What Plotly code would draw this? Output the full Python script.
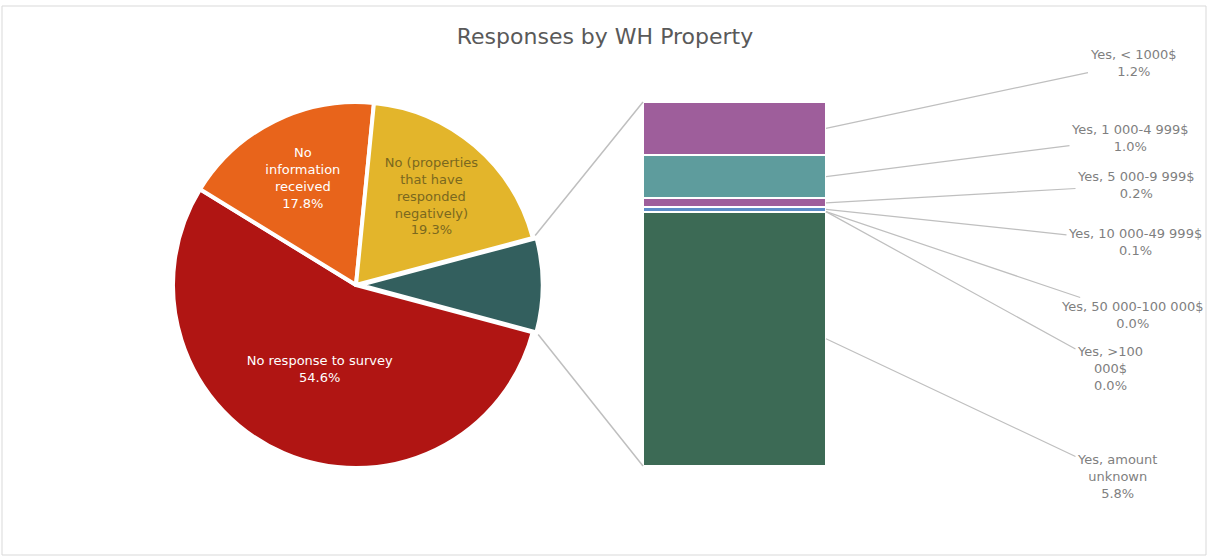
import plotly.graph_objects as go

# ---------------- data ----------------
pie_labels = ["No response to survey", "No information received",
              "No (properties that have responded negatively)", "Other"]
pie_text = ["No response to survey<br>54.6%",
            "No<br>information<br>received<br>17.8%",
            "No (properties<br>that have<br>responded<br>negatively)<br>19.3%",
            ""]
pie_main_values = [54.6, 17.8, 19.3]

bar_labels = ["Yes, amount unknown", "Yes, >100 000$", "Yes, 50 000-100 000$",
              "Yes, 10 000-49 999$", "Yes, 5 000-9 999$", "Yes, 1 000-4 999$",
              "Yes, < 1000$"]
bar_values = [5.8, 0.0, 0.0, 0.1, 0.2, 1.0, 1.2]
bar_label_text = ["Yes, amount<br>unknown<br>5.8%", "Yes, >100<br>000$<br>0.0%",
                  "Yes, 50 000-100 000$<br>0.0%", "Yes, 10 000-49 999$<br>0.1%",
                  "Yes, 5 000-9 999$<br>0.2%", "Yes, 1 000-4 999$<br>1.0%",
                  "Yes, < 1000$<br>1.2%"]

other_total = sum(bar_values)
pie_values = pie_main_values + [other_total]

# ---------------- styles ----------------
FONT = "DejaVu Sans"
pie_colors = ["#B01513", "#E8641B", "#E3B52B", "#335F5E"]
pie_text_colors = ["white", "white", "#7a681f", "#335F5E"]
bar_colors = ["#3C6A55", "#7F7F7F", "#7F7F7F", "#5B8DC8", "#9E5E9B", "#5E9C9D", "#9E5E9B"]
GRAY_LINE = "#BFBFBF"
LABEL_GRAY = "#7F7F7F"

W, H = 1210, 558

fig = go.Figure()

# pie (center ~ (355,285) px, radius ~183 px)
pull = [0, 0, 0, 0.02]
r = 183 * 1.02
cx, cy = 356, 285
fig.add_trace(go.Pie(
    labels=pie_labels, values=pie_values, text=pie_text,
    textinfo="text", texttemplate="%{text}",
    sort=False, direction="clockwise", rotation=105, pull=pull,
    marker=dict(colors=pie_colors, line=dict(color="white", width=4)),
    textposition="inside", insidetextorientation="horizontal",
    insidetextfont=dict(family=FONT, size=13, color=pie_text_colors),
    domain=dict(x=[(cx - r) / W, (cx + r) / W], y=[(H - cy - r) / H, (H - cy + r) / H]),
    showlegend=False, hoverinfo="label+percent",
))

# stacked bar
for lab, val, col in zip(bar_labels, bar_values, bar_colors):
    fig.add_trace(go.Bar(
        x=[0], y=[val], name=lab, width=1,
        marker=dict(color=col, line=dict(color="white", width=2)),
        showlegend=False, hoverinfo="name+y",
    ))

bar_x0, bar_x1 = 643, 826
bar_y0, bar_y1 = 102, 466

annotations = []
# label centers in pixels (layout positions)
label_px = [(1117, 476), (1110, 368), (1132, 315), (1135, 242),
            (1136, 185), (1130, 138), (1133, 63)]
cum = 0.0
px_per_unit = (bar_y1 - bar_y0) / other_total
for val, txt, (lx, ly) in zip(bar_values, bar_label_text, label_px):
    mid = cum + val / 2.0
    cum += val
    anchor_py = bar_y1 - mid * px_per_unit
    annotations.append(dict(
        x=0.5, y=mid, xref="x", yref="y", text=txt, showarrow=True,
        ax=lx - bar_x1, ay=ly - anchor_py, axref="pixel", ayref="pixel",
        arrowhead=0, arrowwidth=1.2, arrowcolor=GRAY_LINE, standoff=0,
        font=dict(family=FONT, size=13, color=LABEL_GRAY), align="center",
    ))

# connector lines pie -> bar
annotations.append(dict(x=-0.5, y=other_total, xref="x", yref="y", text="",
                        showarrow=True, ax=534 - bar_x0, ay=237 - bar_y0,
                        arrowhead=0, arrowwidth=1.5, arrowcolor=GRAY_LINE, standoff=0))
annotations.append(dict(x=-0.5, y=0, xref="x", yref="y", text="",
                        showarrow=True, ax=537 - bar_x0, ay=333 - bar_y1,
                        arrowhead=0, arrowwidth=1.5, arrowcolor=GRAY_LINE, standoff=0))

fig.update_layout(
    width=W, height=H,
    margin=dict(l=0, r=0, t=0, b=0),
    paper_bgcolor="white", plot_bgcolor="white",
    barmode="stack", bargap=0,
    title=dict(text="Responses by WH Property", x=0.5, xanchor="center",
               y=1 - 36 / H, yanchor="middle",
               font=dict(family=FONT, size=22, color="#595959")),
    xaxis=dict(domain=[bar_x0 / W, bar_x1 / W], range=[-0.5, 0.5],
               visible=False, fixedrange=True),
    yaxis=dict(domain=[(H - bar_y1) / H, (H - bar_y0) / H], range=[0, other_total],
               visible=False, fixedrange=True),
    annotations=annotations,
    shapes=[dict(type="rect", xref="paper", yref="paper",
                 x0=2 / W, x1=1206 / W, y0=1 - 555 / H, y1=1 - 6 / H,
                 line=dict(color="#D9D9D9", width=1))],
)

fig.write_html("out.html", config={"displayModeBar": False},
               post_script="document.body.style.margin='0px';document.body.style.overflow='hidden';")
